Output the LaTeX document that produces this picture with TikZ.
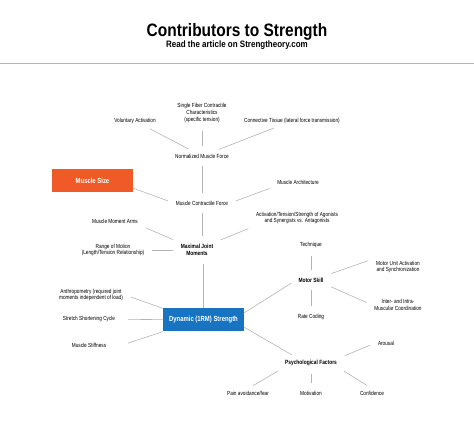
\documentclass[tikz,border=0pt]{standalone}
\usepackage{fontspec}
\setmainfont{Liberation Sans}[FakeStretch=0.8]
\newfontfamily\headfont{Liberation Sans}[FakeStretch=0.86]
\usepackage{xcolor}

\definecolor{sizeorange}{HTML}{F05A28}
\definecolor{strengthblue}{HTML}{1874C1}
\definecolor{linkgray}{HTML}{B4B4B4}

\begin{document}
\begin{tikzpicture}[x=1pt, y=-1pt,
    lbl/.style={font=\fontsize{5.9}{6.9}\selectfont, align=center, inner sep=2pt},
    keylbl/.style={font=\fontsize{6.1}{7}\selectfont\bfseries, align=center, inner sep=2pt},
    factorbox/.style={font=\fontsize{7.4}{8}\selectfont\bfseries, text=white, minimum width=81pt, minimum height=23pt, inner sep=0pt},
    link/.style={draw=linkgray, line width=0.6pt, shorten <=6pt, shorten >=6pt}]
    \useasboundingbox (0,0) rectangle (474,430);

    % Heading
    \node[font=\headfont\fontsize{18}{20}\selectfont\bfseries] (title) at (237,32) {Contributors to Strength};
    \node[font=\headfont\fontsize{9.3}{10}\selectfont\bfseries] (subtitle) at (237,45) {Read the article on Strengtheory.com};
    \draw[linkgray, line width=0.8pt] (0,63.5) -- (474,63.5);

    % Normalized muscle force
    \node[lbl] (va) at (135,121) {Voluntary Activation};
    \node[lbl] (sfc) at (202,113) {Single Fiber Contractile\\Characteristics\\(specific tension)};
    \node[lbl] (ct) at (292,121) {Connective Tissue (lateral force transmission)};
    \node[lbl] (nmf) at (202,156) {Normalized Muscle Force};

    % Muscle contractile force
    \node[factorbox, fill=sizeorange] (msize) at (92.5,181) {Muscle Size};
    \node[lbl] (ma) at (298,182) {Muscle Architecture};
    \node[lbl] (mcf) at (202,203) {Muscle Contractile Force};

    % Maximal joint moments
    \node[lbl] (mma) at (115,221) {Muscle Moment Arms};
    \node[lbl] (ats) at (297,218) {Activation/Tension/Strength of Agonists\\and Synergists vs. Antagonists};
    \node[lbl] (rom) at (113,250) {Range of Motion\\(Length/Tension Relationship)};
    \node[keylbl] (mjm) at (197,250) {Maximal Joint\\Moments};

    % Dynamic strength
    \node[factorbox, fill=strengthblue] (dyn) at (203.5,320) {Dynamic (1RM) Strength};
    \node[lbl, minimum width=66pt] (anth) at (91,295) {Anthropometry (required joint\\moments independent of load)};
    \node[lbl, minimum width=66pt] (ssc) at (89,319) {Stretch Shortening Cycle};
    \node[lbl, minimum width=66pt] (stiff) at (89,345) {Muscle Stiffness};

    % Motor skill
    \node[lbl] (tech) at (311,245) {Technique};
    \node[keylbl] (ms) at (311,280) {Motor Skill};
    \node[lbl] (mua) at (398,267) {Motor Unit Activation\\and Synchronization};
    \node[lbl] (imc) at (398,305) {Inter- and Intra-\\Muscular Coordination};
    \node[lbl] (rc) at (311,317) {Rate Coding};

    % Psychological factors
    \node[keylbl] (psy) at (311,363) {Psychological Factors};
    \node[lbl] (aro) at (386,343) {Arousal};
    \node[lbl] (pain) at (248,393) {Pain avoidance/fear};
    \node[lbl] (mot) at (311,393) {Motivation};
    \node[lbl] (conf) at (372,393) {Confidence};

    % Connectors
    \draw[link] (va) -- (nmf);
    \draw[link] (sfc) -- (nmf);
    \draw[link] (ct) -- (nmf);
    \draw[link] (nmf) -- (mcf);
    \draw[link, shorten <=0pt] (msize.-10) -- (mcf.west);
    \draw[link] (ma.south west) -- (mcf.east);
    \draw[link] (mcf) -- (mcf |- mjm.north);

    \draw[link] (mma.south east) -- (mjm.north west);
    \draw[link] (ats.south west) -- (mjm.north east);
    \draw[link] (rom) -- (mjm);
    \draw[link, shorten >=0pt] (dyn |- mjm.south) -- (dyn);

    \draw[link, shorten >=0pt] (anth.east) -- (dyn.north west);
    \draw[link, shorten >=0pt] (ssc) -- (dyn);
    \draw[link, shorten >=0pt] (stiff.east) -- (dyn.south west);

    \draw[link, shorten <=0pt] (dyn.10) -- (ms.west);
    \draw[link] (tech) -- (ms);
    \draw[link] (ms.north east) -- (mua.north west);
    \draw[link] (ms.south east) -- (imc.west);
    \draw[link] (ms) -- (rc);

    \draw[link, shorten <=0pt] (dyn.-10) -- (psy.160);
    \draw[link] (psy.north east) -- (aro.west);
    \draw[link] (psy.south west) -- (pain.north);
    \draw[link] (psy) -- (mot);
    \draw[link] (psy.south east) -- (conf.north);
\end{tikzpicture}
\end{document}
